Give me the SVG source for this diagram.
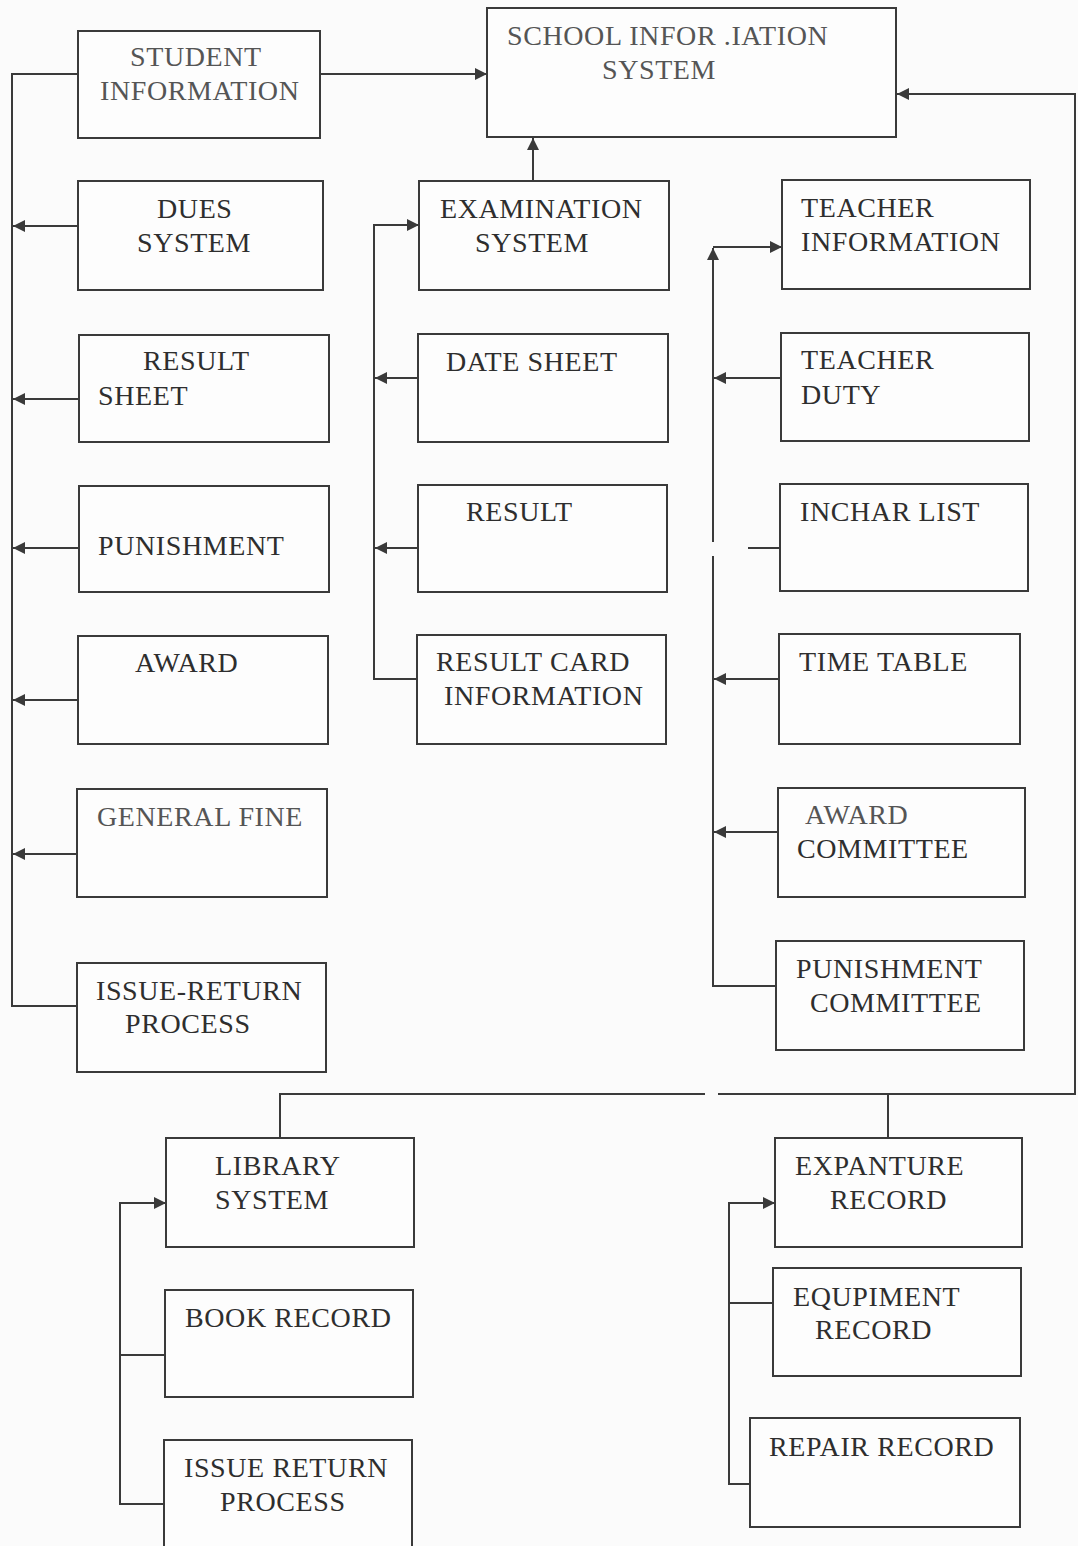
<svg xmlns="http://www.w3.org/2000/svg" width="1078" height="1546" viewBox="0 0 1078 1546">
<style>
.box{fill:#fdfdfd;stroke:#3a3a3a;stroke-width:2}
.t{font-family:"Liberation Serif","Times New Roman",serif;font-size:28px;letter-spacing:0.6px;fill:#2e2e2e}
.lt{fill:#555}
.c{fill:none;stroke:#3a3a3a;stroke-width:2}
</style>
<defs>
<marker id="ah" viewBox="0 0 10 10" refX="10" refY="5" markerWidth="6" markerHeight="6" markerUnits="strokeWidth" orient="auto">
<path d="M0,0 L10,5 L0,10 Z" fill="#3a3a3a"/>
</marker>
</defs>
<rect width="1078" height="1546" fill="#fbfbfb"/>
<g id="connectors">
<path class="c" d="M320,74 L487,74" marker-end="url(#ah)"/>
<path class="c" d="M78,74 L12,74 L12,1006 L77,1006"/>
<path class="c" d="M78,226 L13,226" marker-end="url(#ah)"/>
<path class="c" d="M79,399 L13,399" marker-end="url(#ah)"/>
<path class="c" d="M79,548 L13,548" marker-end="url(#ah)"/>
<path class="c" d="M78,700 L13,700" marker-end="url(#ah)"/>
<path class="c" d="M77,854 L13,854" marker-end="url(#ah)"/>
<path class="c" d="M533,181 L533,138" marker-end="url(#ah)"/>
<path class="c" d="M417,679 L374,679 L374,225 L419,225" marker-end="url(#ah)"/>
<path class="c" d="M418,378 L375,378" marker-end="url(#ah)"/>
<path class="c" d="M418,548 L375,548" marker-end="url(#ah)"/>
<path class="c" d="M776,986 L713,986 L713,556"/>
<path class="c" d="M713,542 L713,248" marker-end="url(#ah)"/>
<path class="c" d="M713,247 L782,247" marker-end="url(#ah)"/>
<path class="c" d="M781,378 L714,378" marker-end="url(#ah)"/>
<path class="c" d="M780,548 L748,548"/>
<path class="c" d="M779,679 L714,679" marker-end="url(#ah)"/>
<path class="c" d="M778,832 L714,832" marker-end="url(#ah)" stroke="#777"/>
<path class="c" d="M280,1137 L280,1094 L705,1094"/>
<path class="c" d="M718,1094 L1075,1094 L1075,94 L897,94" marker-end="url(#ah)"/>
<path class="c" d="M888,1094 L888,1137"/>
<path class="c" d="M164,1504 L120,1504 L120,1203 L166,1203" marker-end="url(#ah)"/>
<path class="c" d="M165,1355 L120,1355"/>
<path class="c" d="M750,1484 L729,1484 L729,1203 L775,1203" marker-end="url(#ah)"/>
<path class="c" d="M773,1303 L729,1303"/>
</g>
<g id="school"><rect class="box" x="487" y="8" width="409" height="129"/><text class="t lt" x="507" y="45">SCHOOL INFOR .IATION</text><text class="t lt" x="602" y="79">SYSTEM</text></g>
<g id="student"><rect class="box" x="78" y="31" width="242" height="107"/><text class="t lt" x="130" y="66">STUDENT</text><text class="t lt" x="100" y="100">INFORMATION</text></g>
<g id="dues"><rect class="box" x="78" y="181" width="245" height="109"/><text class="t" x="157" y="218">DUES</text><text class="t" x="137" y="252">SYSTEM</text></g>
<g id="resultsheet"><rect class="box" x="79" y="335" width="250" height="107"/><text class="t" x="143" y="370">RESULT</text><text class="t" x="98" y="405">SHEET</text></g>
<g id="punishment"><rect class="box" x="79" y="486" width="250" height="106"/><text class="t" x="98" y="555">PUNISHMENT</text></g>
<g id="award"><rect class="box" x="78" y="636" width="250" height="108"/><text class="t" x="135" y="672">AWARD</text></g>
<g id="generalfine"><rect class="box" x="77" y="789" width="250" height="108"/><text class="t lt" x="97" y="826">GENERAL FINE</text></g>
<g id="issuereturn1"><rect class="box" x="77" y="963" width="249" height="109"/><text class="t" x="96" y="1000">ISSUE-RETURN</text><text class="t" x="125" y="1033">PROCESS</text></g>
<g id="exam"><rect class="box" x="419" y="181" width="250" height="109"/><text class="t" x="440" y="218">EXAMINATION</text><text class="t" x="475" y="252">SYSTEM</text></g>
<g id="datesheet"><rect class="box" x="418" y="334" width="250" height="108"/><text class="t" x="446" y="371">DATE SHEET</text></g>
<g id="result"><rect class="box" x="418" y="485" width="249" height="107"/><text class="t" x="466" y="521">RESULT</text></g>
<g id="resultcard"><rect class="box" x="417" y="635" width="249" height="109"/><text class="t" x="436" y="671">RESULT CARD</text><text class="t" x="444" y="705">INFORMATION</text></g>
<g id="teacherinfo"><rect class="box" x="782" y="180" width="248" height="109"/><text class="t" x="801" y="217">TEACHER</text><text class="t" x="801" y="251">INFORMATION</text></g>
<g id="teacherduty"><rect class="box" x="781" y="333" width="248" height="108"/><text class="t" x="801" y="369">TEACHER</text><text class="t" x="801" y="404">DUTY</text></g>
<g id="incharlist"><rect class="box" x="780" y="484" width="248" height="107"/><text class="t" x="800" y="521">INCHAR LIST</text></g>
<g id="timetable"><rect class="box" x="779" y="634" width="241" height="110"/><text class="t" x="799" y="671">TIME TABLE</text></g>
<g id="awardcommittee"><rect class="box" x="778" y="788" width="247" height="109"/><text class="t lt" x="805" y="824" letter-spacing="1.5">AWARD</text><text class="t" x="797" y="858">COMMITTEE</text></g>
<g id="punishmentcommittee"><rect class="box" x="776" y="941" width="248" height="109"/><text class="t" x="796" y="978">PUNISHMENT</text><text class="t" x="810" y="1012">COMMITTEE</text></g>
<g id="library"><rect class="box" x="166" y="1138" width="248" height="109"/><text class="t" x="215" y="1175">LIBRARY</text><text class="t" x="215" y="1209">SYSTEM</text></g>
<g id="bookrecord"><rect class="box" x="165" y="1290" width="248" height="107"/><text class="t" x="185" y="1327">BOOK RECORD</text></g>
<g id="issuereturn2"><rect class="box" x="164" y="1440" width="248" height="110"/><text class="t" x="184" y="1477">ISSUE RETURN</text><text class="t" x="220" y="1511">PROCESS</text></g>
<g id="expanture"><rect class="box" x="775" y="1138" width="247" height="109"/><text class="t" x="795" y="1175">EXPANTURE</text><text class="t" x="830" y="1209">RECORD</text></g>
<g id="equipment"><rect class="box" x="773" y="1268" width="248" height="108"/><text class="t" x="793" y="1306">EQUPIMENT</text><text class="t" x="815" y="1339">RECORD</text></g>
<g id="repair"><rect class="box" x="750" y="1418" width="270" height="109"/><text class="t" x="769" y="1456">REPAIR RECORD</text></g>
</svg>
